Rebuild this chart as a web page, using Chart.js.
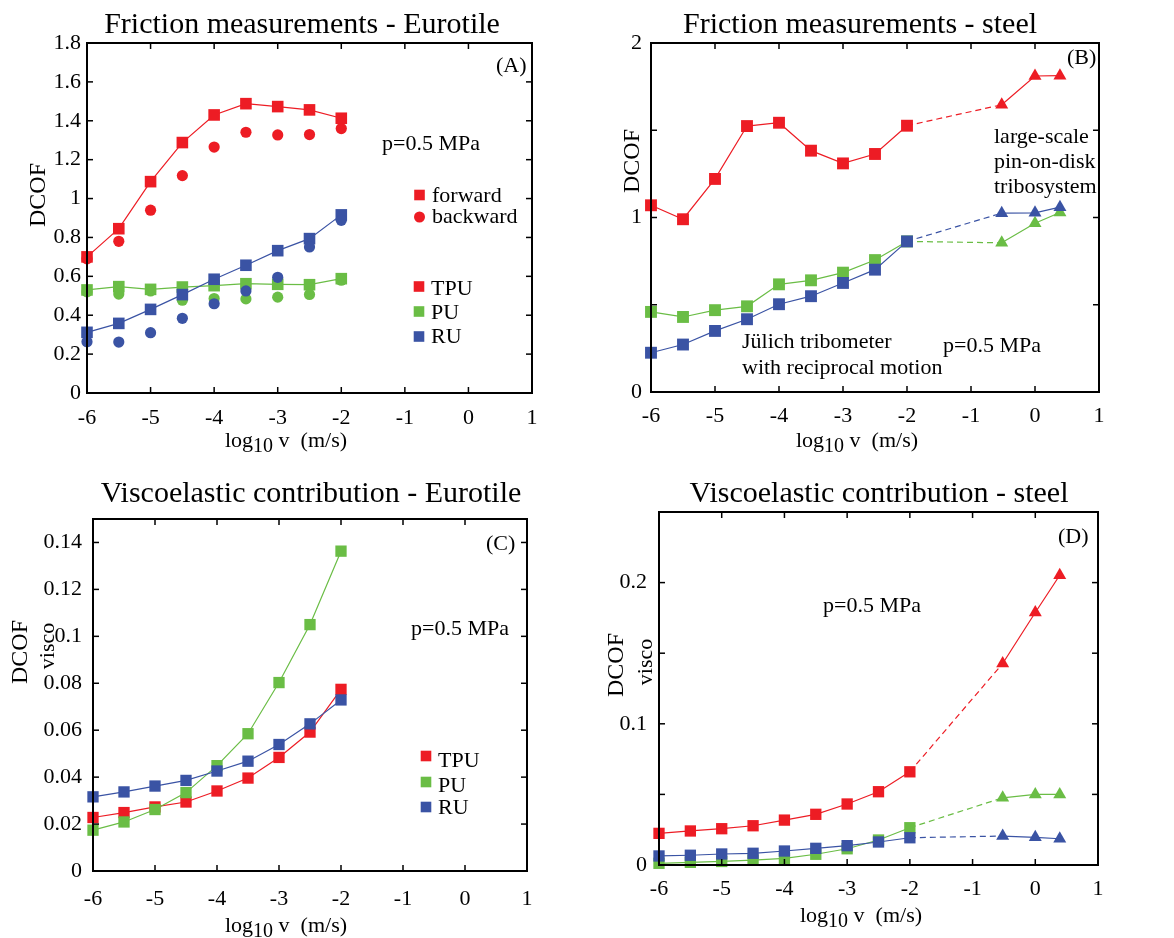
<!DOCTYPE html>
<html>
<head>
<meta charset="utf-8">
<script src="https://cdn.jsdelivr.net/npm/chart.js@4.4.1/dist/chart.umd.min.js"></script>
<style>
  body { margin: 0; background: #fff; }
  canvas { position: absolute; }
</style>
</head>
<body>
<canvas id="panelA" width="587" height="460" style="left:0;top:0"></canvas>
<canvas id="panelB" width="587" height="460" style="left:587px;top:0"></canvas>
<canvas id="panelC" width="587" height="478" style="left:0;top:460px"></canvas>
<canvas id="panelD" width="587" height="478" style="left:587px;top:460px"></canvas>
<script>
// log10 of sliding speed (m/s)
const xLow = [-6, -5.5, -5, -4.5, -4, -3.5, -3, -2.5, -2];
const xHigh = [-0.52, 0, 0.39];

// (A) friction on Eurotile, forward / backward
const aTpuFwd = [0.70, 0.845, 1.087, 1.288, 1.430, 1.488, 1.473, 1.456, 1.413];
const aTpuBwd = [0.69, 0.780, 0.940, 1.118, 1.265, 1.341, 1.327, 1.329, 1.360];
const aPuFwd = [0.530, 0.547, 0.533, 0.545, 0.552, 0.562, 0.559, 0.557, 0.588];
const aPuBwd = [0.520, 0.509, 0.525, 0.477, 0.486, 0.484, 0.493, 0.507, 0.580];
const aRuFwd = [0.312, 0.358, 0.430, 0.506, 0.585, 0.657, 0.732, 0.794, 0.916];
const aRuBwd = [0.264, 0.262, 0.310, 0.384, 0.459, 0.525, 0.595, 0.751, 0.888];

// (B) friction on steel, tribometer + large-scale pin-on-disk
const bTpu = [1.070, 0.990, 1.221, 1.524, 1.543, 1.383, 1.310, 1.364, 1.526];
const bTpuHi = [1.646, 1.811, 1.813];
const bPu = [0.459, 0.430, 0.469, 0.491, 0.617, 0.640, 0.684, 0.756, 0.863];
const bPuHi = [0.855, 0.967, 1.029];
const bRu = [0.225, 0.272, 0.350, 0.417, 0.503, 0.549, 0.625, 0.701, 0.863];
const bRuHi = [1.025, 1.027, 1.059];

// (C) viscoelastic contribution, Eurotile
const cTpu = [0.0228, 0.0249, 0.0273, 0.0294, 0.0341, 0.0396, 0.0484, 0.0592, 0.0774];
const cPu = [0.0174, 0.0209, 0.0262, 0.0334, 0.0449, 0.0585, 0.0803, 0.1050, 0.1363];
const cRu = [0.0316, 0.0337, 0.0362, 0.0386, 0.0426, 0.0468, 0.0539, 0.0627, 0.0729];

// (D) viscoelastic contribution, steel
const dTpu = [0.0224, 0.0241, 0.0257, 0.0278, 0.0318, 0.0359, 0.0432, 0.0519, 0.0660];
const dTpuHi = [0.1427, 0.1788, 0.2052];
const dPu = [0.0012, 0.0019, 0.0025, 0.0035, 0.0047, 0.0076, 0.0115, 0.0177, 0.0264];
const dPuHi = [0.0476, 0.0500, 0.0500];
const dRu = [0.0064, 0.0069, 0.0078, 0.0083, 0.0099, 0.0118, 0.0137, 0.0163, 0.0193];
const dRuHi = [0.0205, 0.0196, 0.0186];

const xTicks = { min: -6, max: 1, step: 1 };

const RED = '#ed1c24';
const GREEN = '#6abd45';
const BLUE = '#3a53a4';
const FONT = '"Liberation Serif", "Times New Roman", serif';

const num = (v) => String(+v.toFixed(4));

function pts(xs, ys) {
    return xs.map((x, i) => ({ x: x, y: ys[i] }));
}

function marks(xs, ys, color, style, radius, line) {
    return {
        data: pts(xs, ys),
        showLine: line,
        borderColor: color,
        backgroundColor: color,
        borderWidth: 1.2,
        pointStyle: style,
        pointRadius: radius,
        pointBorderWidth: 0,
        pointBackgroundColor: color,
        clip: false
    };
}

// dashed link between last tribometer point and first pin-on-disk point
function link(xs1, ys1, xs2, ys2, color) {
    const n = xs1.length - 1;
    return {
        data: [{ x: xs1[n], y: ys1[n] }, { x: xs2[0], y: ys2[0] }],
        showLine: true,
        borderColor: color,
        borderWidth: 1.2,
        borderDash: [6, 4],
        pointRadius: 0,
        clip: false
    };
}

function line(ctx, x1, y1, x2, y2) {
    ctx.beginPath();
    ctx.moveTo(x1, y1);
    ctx.lineTo(x2, y2);
    ctx.stroke();
}

/**
 * Frame, inward ticks and all the annotation text of one panel
 */
function decor(cfg) {
    return {
        id: 'decor',
        afterDraw: (chart) => {
            const { ctx, chartArea: a } = chart;
            const sx = chart.scales.x, sy = chart.scales.y;
            ctx.save();
            ctx.strokeStyle = '#000';
            ctx.lineWidth = 1.5;
            sx.ticks.forEach((t) => {
                const p = sx.getPixelForValue(t.value);
                line(ctx, p, a.bottom, p, a.bottom - 6);
                line(ctx, p, a.top, p, a.top + 6);
            });
            sy.ticks.forEach((t) => {
                const p = sy.getPixelForValue(t.value);
                line(ctx, a.left, p, a.left + 6, p);
                line(ctx, a.right, p, a.right - 6, p);
            });
            ctx.lineWidth = 2;
            ctx.strokeRect(a.left, a.top, a.right - a.left, a.bottom - a.top);

            ctx.fillStyle = '#000';
            ctx.textBaseline = 'alphabetic';

            // title
            ctx.font = '30px ' + FONT;
            ctx.textAlign = 'center';
            ctx.fillText(cfg.title[0], cfg.title[1], cfg.title[2]);

            // free texts
            ctx.textAlign = 'left';
            ctx.font = '22px ' + FONT;
            cfg.texts.forEach((t) => ctx.fillText(t[0], t[1], t[2]));

            // x axis title with subscript
            ctx.font = '22px ' + FONT;
            const [cx, by] = cfg.xlabel;
            const w1 = ctx.measureText('log').width;
            const w3 = ctx.measureText(' v  (m/s)').width;
            ctx.font = '20px ' + FONT;
            const w2 = ctx.measureText('10').width;
            let x0 = cx - (w1 + w2 + w3) / 2;
            ctx.font = '22px ' + FONT;
            ctx.fillText('log', x0, by);
            ctx.font = '20px ' + FONT;
            ctx.fillText('10', x0 + w1, by + 5);
            ctx.font = '22px ' + FONT;
            ctx.fillText(' v  (m/s)', x0 + w1 + w2, by);

            // rotated y labels
            ctx.textAlign = 'center';
            ctx.textBaseline = 'middle';
            cfg.ylabels.forEach((t) => {
                ctx.save();
                ctx.translate(t[1], t[2]);
                ctx.rotate(-Math.PI / 2);
                ctx.font = t[3] + 'px ' + FONT;
                ctx.fillText(t[0], 0, 0);
                ctx.restore();
            });

            // legend
            (cfg.legend || []).forEach((l) => {
                ctx.fillStyle = l.color;
                ctx.beginPath();
                if (l.style === 'circle') {
                    ctx.arc(l.x, l.y, 5.5, 0, Math.PI * 2);
                } else {
                    ctx.rect(l.x - 5.3, l.y - 5.3, 10.6, 10.6);
                }
                ctx.fill();
                ctx.fillStyle = '#000';
                ctx.textAlign = 'left';
                ctx.textBaseline = 'alphabetic';
                ctx.font = '22px ' + FONT;
                ctx.fillText(l.text, l.tx, l.ty);
            });
            ctx.restore();
        }
    };
}

function makeChart(id, datasets, box, yAxis, cfg) {
    const canvas = document.getElementById(id);
    return new Chart(canvas.getContext('2d'), {
        type: 'scatter',
        data: { datasets: datasets.slice().reverse() },
        options: {
            responsive: false,
            animation: false,
            devicePixelRatio: 1,
            events: [],
            layout: { padding: { left: 0, top: box.top, right: canvas.width - box.right, bottom: 0 } },
            plugins: { legend: { display: false }, tooltip: { enabled: false } },
            scales: {
                x: {
                    type: 'linear',
                    min: xTicks.min,
                    max: xTicks.max,
                    grid: { display: false, drawTicks: false },
                    border: { display: false },
                    ticks: {
                        stepSize: xTicks.step,
                        padding: box.xpad,
                        maxRotation: 0,
                        autoSkip: false,
                        color: '#000',
                        font: { family: FONT, size: 22 },
                        callback: num
                    },
                    afterFit: (s) => { s.height = canvas.height - box.bottom; }
                },
                y: {
                    type: 'linear',
                    min: 0,
                    max: yAxis.max,
                    grid: { display: false, drawTicks: false },
                    border: { display: false },
                    ticks: {
                        stepSize: yAxis.step,
                        includeBounds: false,
                        padding: box.ypad,
                        color: '#000',
                        font: { family: FONT, size: 22 },
                        callback: yAxis.label
                    },
                    afterFit: (s) => { s.width = box.left; }
                }
            }
        },
        plugins: [decor(cfg)]
    });
}

// (A)
makeChart('panelA', [
    marks(xLow, aTpuFwd, RED, 'rect', 8.2, true),
    marks(xLow, aTpuBwd, RED, 'circle', 5.6, false),
    marks(xLow, aPuFwd, GREEN, 'rect', 8.2, true),
    marks(xLow, aPuBwd, GREEN, 'circle', 5.6, false),
    marks(xLow, aRuFwd, BLUE, 'rect', 8.2, true),
    marks(xLow, aRuBwd, BLUE, 'circle', 5.6, false)
], { left: 87, top: 43, right: 532, bottom: 393, xpad: 12, ypad: 6 },
{ max: 1.8, step: 0.2, label: num }, {
    title: ['Friction measurements - Eurotile', 302, 33],
    texts: [['(A)', 496, 72], ['p=0.5 MPa', 382, 150]],
    xlabel: [286, 447],
    ylabels: [['DCOF', 39, 195, 24]],
    legend: [
        { style: 'rect', color: RED, x: 419.5, y: 195, text: 'forward', tx: 432, ty: 202 },
        { style: 'circle', color: RED, x: 419.5, y: 217, text: 'backward', tx: 432, ty: 223 },
        { style: 'rect', color: RED, x: 419, y: 286.5, text: 'TPU', tx: 431, ty: 295 },
        { style: 'rect', color: GREEN, x: 419, y: 311.5, text: 'PU', tx: 431, ty: 318.5 },
        { style: 'rect', color: BLUE, x: 419, y: 336.5, text: 'RU', tx: 431, ty: 342.5 }
    ]
});

// (B)
makeChart('panelB', [
    marks(xLow, bTpu, RED, 'rect', 8.4, true),
    link(xLow, bTpu, xHigh, bTpuHi, RED),
    marks(xHigh, bTpuHi, RED, 'triangle', 7.5, true),
    marks(xLow, bPu, GREEN, 'rect', 8.4, true),
    link(xLow, bPu, xHigh, bPuHi, GREEN),
    marks(xHigh, bPuHi, GREEN, 'triangle', 7.5, true),
    marks(xLow, bRu, BLUE, 'rect', 8.4, true),
    link(xLow, bRu, xHigh, bRuHi, BLUE),
    marks(xHigh, bRuHi, BLUE, 'triangle', 7.5, true)
], { left: 64, top: 43, right: 512, bottom: 392, xpad: 11, ypad: 9 },
{ max: 2, step: 0.5, label: (v) => (Math.abs(v - Math.round(v)) < 1e-6 ? num(v) : '') }, {
    title: ['Friction measurements - steel', 273, 33],
    texts: [
        ['(B)', 480, 64],
        ['large-scale', 407, 143], ['pin-on-disk', 407, 168], ['tribosystem', 407, 193],
        ['Jülich tribometer', 155, 348], ['with reciprocal motion', 155, 374],
        ['p=0.5 MPa', 356, 352]
    ],
    xlabel: [270, 447],
    ylabels: [['DCOF', 46, 161, 24]]
});

// (C)
makeChart('panelC', [
    marks(xLow, cTpu, RED, 'rect', 8, true),
    marks(xLow, cPu, GREEN, 'rect', 8, true),
    marks(xLow, cRu, BLUE, 'rect', 8, true)
], { left: 93, top: 59, right: 527, bottom: 411, xpad: 15, ypad: 11 },
{ max: 0.15, step: 0.02, label: num }, {
    title: ['Viscoelastic contribution - Eurotile', 311, 42],
    texts: [['(C)', 486, 90], ['p=0.5 MPa', 411, 175]],
    xlabel: [286, 472],
    ylabels: [['DCOF', 21, 192, 24], ['visco', 48, 186, 22]],
    legend: [
        { style: 'rect', color: RED, x: 426, y: 296, text: 'TPU', tx: 438, ty: 306.5 },
        { style: 'rect', color: GREEN, x: 426, y: 322, text: 'PU', tx: 438, ty: 331.5 },
        { style: 'rect', color: BLUE, x: 426, y: 347, text: 'RU', tx: 438, ty: 354 }
    ]
});

// (D)
makeChart('panelD', [
    marks(xLow, dTpu, RED, 'rect', 8, true),
    link(xLow, dTpu, xHigh, dTpuHi, RED),
    marks(xHigh, dTpuHi, RED, 'triangle', 7.5, true),
    marks(xLow, dPu, GREEN, 'rect', 8, true),
    link(xLow, dPu, xHigh, dPuHi, GREEN),
    marks(xHigh, dPuHi, GREEN, 'triangle', 7.5, true),
    marks(xLow, dRu, BLUE, 'rect', 8, true),
    link(xLow, dRu, xHigh, dRuHi, BLUE),
    marks(xHigh, dRuHi, BLUE, 'triangle', 7.5, true)
], { left: 72, top: 52, right: 511, bottom: 405, xpad: 11, ypad: 12 },
{ max: 0.25, step: 0.05, label: (v) => (Math.abs(v * 10 - Math.round(v * 10)) < 1e-6 ? num(v) : '') }, {
    title: ['Viscoelastic contribution - steel', 292, 42],
    texts: [['(D)', 471, 83], ['p=0.5 MPa', 236, 152]],
    xlabel: [274, 462],
    ylabels: [['DCOF', 30, 205, 24], ['visco', 59, 202, 22]]
});
</script>
</body>
</html>
